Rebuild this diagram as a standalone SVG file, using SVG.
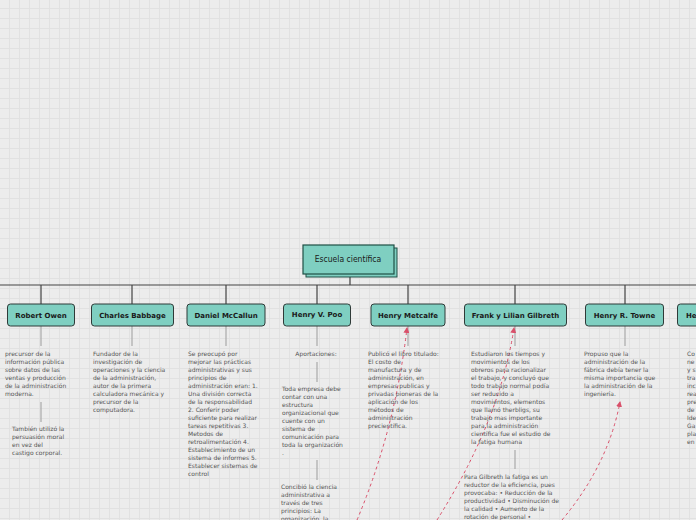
<svg xmlns="http://www.w3.org/2000/svg" width="696" height="520" viewBox="0 0 696 520">
<defs>
<pattern id="grid" x="9" y="8" width="10" height="10" patternUnits="userSpaceOnUse">
<path d="M0.5,0 V10 M0,0.5 H10" stroke="#e1e1e1" stroke-width="1" fill="none"/>
</pattern>
<marker id="arr" markerWidth="6" markerHeight="6" refX="5" refY="3" orient="auto" markerUnits="userSpaceOnUse">
<path d="M0,0 L6,3 L0,6 Z" fill="#d9506a"/>
</marker>
<style>
.node rect{fill:#7fcfc1;stroke:#2f3a38;stroke-width:1}
.lbl{font-family:"DejaVu Sans",Verdana,sans-serif;font-size:7px;font-weight:bold;fill:#1a1a1a;text-anchor:middle}
.lbl-start{text-anchor:start}
.txt{font-family:"DejaVu Sans",Verdana,sans-serif;font-size:6px;fill:#555}
.mid{text-anchor:middle}
.main{stroke:#444;stroke-width:1.2;fill:none}
.sub{stroke:#aaa;stroke-width:1.2;fill:none}
.rel{stroke:#d9506a;stroke-width:1;stroke-dasharray:3,3;fill:none}
</style>
</defs>
<rect width="696" height="520" fill="#ececec"/>
<rect width="696" height="520" fill="url(#grid)"/>

<g id="connectors">
<path class="main" d="M350,277 V285" stroke-width="2"/>
<path class="main" d="M0,285 H696"/>
<path class="main" d="M41,285 V304 M132,285 V304 M226,285 V304 M317,285 V304 M408,285 V304 M515,285 V304 M625,285 V304"/>
<path class="sub" d="M41,326 V346 M41,402 V422 M132,326 V346 M226,326 V346 M317,326 V346 M317,362 V382 M317,460 V480 M408,326 V346 M515,326 V346 M515,450 V469 M625,326 V346"/>
<path class="rel" d="M357,520 Q395,430 407,328" marker-end="url(#arr)"/>
<path class="rel" d="M437,520 Q500,420 514,328" marker-end="url(#arr)"/>
<path class="rel" d="M562,520 Q608,465 620,402" marker-end="url(#arr)"/>
</g>

<g id="root">
<rect x="306" y="248" width="91" height="29" fill="#7fcfc1" stroke="#1f4f45" stroke-width="1"/>
<rect x="303" y="245" width="91" height="29" fill="#7fcfc1" stroke="#1f4f45" stroke-width="1.2"/>
<text x="348" y="262" font-family="'DejaVu Sans Condensed','DejaVu Sans',sans-serif" font-stretch="condensed" font-size="8.5" fill="#1a1a1a" text-anchor="middle">Escuela científica</text>
</g>

<g id="robert-owen" class="node">
<rect x="7.5" y="304" width="67" height="22" rx="3"/>
<text class="lbl" x="41" y="317.5">Robert Owen</text>
<text class="txt">
<tspan x="5" y="356">precursor de la</tspan>
<tspan x="5" y="364">información pública</tspan>
<tspan x="5" y="372">sobre datos de las</tspan>
<tspan x="5" y="380">ventas y producción</tspan>
<tspan x="5" y="388">de la administración</tspan>
<tspan x="5" y="396">moderna.</tspan>
</text>
<text class="txt">
<tspan x="12" y="431">También utilizó la</tspan>
<tspan x="12" y="439">persuasión moral</tspan>
<tspan x="12" y="447">en vez del</tspan>
<tspan x="12" y="455">castigo corporal.</tspan>
</text>
</g>

<g id="charles-babbage" class="node">
<rect x="91.5" y="304" width="82" height="22" rx="3"/>
<text class="lbl" x="132.5" y="317.5">Charles Babbage</text>
<text class="txt">
<tspan x="93" y="356">Fundador de la</tspan>
<tspan x="93" y="364">investigación de</tspan>
<tspan x="93" y="372">operaciones y la ciencia</tspan>
<tspan x="93" y="380">de la administración,</tspan>
<tspan x="93" y="388">autor de la primera</tspan>
<tspan x="93" y="396">calculadora mecánica y</tspan>
<tspan x="93" y="404">precursor de la</tspan>
<tspan x="93" y="412">computadora.</tspan>
</text>
</g>

<g id="daniel-mccallun" class="node">
<rect x="187" y="304" width="78" height="22" rx="3"/>
<text class="lbl" x="226" y="317.5">Daniel McCallun</text>
<text class="txt">
<tspan x="188" y="356">Se preocupó por</tspan>
<tspan x="188" y="364">mejorar las prácticas</tspan>
<tspan x="188" y="372">administrativas y sus</tspan>
<tspan x="188" y="380">principios de</tspan>
<tspan x="188" y="388">administración eran: 1.</tspan>
<tspan x="188" y="396">Una división correcta</tspan>
<tspan x="188" y="404">de la responsabilidad</tspan>
<tspan x="188" y="412">2. Conferir poder</tspan>
<tspan x="188" y="420">suficiente para realizar</tspan>
<tspan x="188" y="428">tareas repetitivas 3.</tspan>
<tspan x="188" y="436">Metodos de</tspan>
<tspan x="188" y="444">retroalimentación 4.</tspan>
<tspan x="188" y="452">Establecimiento de un</tspan>
<tspan x="188" y="460">sistema de informes 5.</tspan>
<tspan x="188" y="468">Establecer sistemas de</tspan>
<tspan x="188" y="476">control</tspan>
</text>
</g>

<g id="henry-v-poo" class="node">
<rect x="283.5" y="304" width="67" height="22" rx="3"/>
<text class="lbl" x="317" y="317">Henry V. Poo</text>
<text class="txt mid" x="316" y="356">Aportaciones:</text>
<text class="txt">
<tspan x="282" y="391">Toda empresa debe</tspan>
<tspan x="282" y="399">contar con una</tspan>
<tspan x="282" y="407">estructura</tspan>
<tspan x="282" y="415">organizacional que</tspan>
<tspan x="282" y="423">cuente con un</tspan>
<tspan x="282" y="431">sistema de</tspan>
<tspan x="282" y="439">comunicación para</tspan>
<tspan x="282" y="447">toda la organización</tspan>
<tspan x="282" y="455">.</tspan>
</text>
<text class="txt">
<tspan x="281" y="489">Concibió la ciencia</tspan>
<tspan x="281" y="497">administrativa a</tspan>
<tspan x="281" y="505">través de tres</tspan>
<tspan x="281" y="513">principios: La</tspan>
<tspan x="281" y="521">organización, la</tspan>
</text>
</g>

<g id="henry-metcalfe" class="node">
<rect x="371" y="304" width="74" height="22" rx="3"/>
<text class="lbl" x="408" y="318">Henry Metcalfe</text>
<text class="txt">
<tspan x="368" y="356">Publicó el libro titulado:</tspan>
<tspan x="368" y="364">El costo de</tspan>
<tspan x="368" y="372">manufactura y de</tspan>
<tspan x="368" y="380">administración, en</tspan>
<tspan x="368" y="388">empresas publicas y</tspan>
<tspan x="368" y="396">privadas pioneras de la</tspan>
<tspan x="368" y="404">aplicación de los</tspan>
<tspan x="368" y="412">métodos de</tspan>
<tspan x="368" y="420">administración</tspan>
<tspan x="368" y="428">precientífica.</tspan>
</text>
</g>

<g id="frank-lilian-gilbreth" class="node">
<rect x="464.5" y="304" width="102" height="22" rx="3"/>
<text class="lbl" x="515.5" y="318">Frank y Lilian Gilbreth</text>
<text class="txt">
<tspan x="471" y="356">Estudiaron los tiempos y</tspan>
<tspan x="471" y="364">movimientos de los</tspan>
<tspan x="471" y="372">obreros para racionalizar</tspan>
<tspan x="471" y="380">el trabajo, y concluyó que</tspan>
<tspan x="471" y="388">todo trabajo normal podía</tspan>
<tspan x="471" y="396">ser reducido a</tspan>
<tspan x="471" y="404">movimientos, elementos</tspan>
<tspan x="471" y="412">que llamó therbligs, su</tspan>
<tspan x="471" y="420">trabajo mas importante</tspan>
<tspan x="471" y="428">para la administración</tspan>
<tspan x="471" y="436">científica fue el estudio de</tspan>
<tspan x="471" y="444">la fatiga humana</tspan>
</text>
<text class="txt">
<tspan x="464" y="479">Para Gilbreth la fatiga es un</tspan>
<tspan x="464" y="487">reductor de la eficiencia, pues</tspan>
<tspan x="464" y="495">provocaba: • Reducción de la</tspan>
<tspan x="464" y="503">productividad • Disminución de</tspan>
<tspan x="464" y="511">la calidad • Aumento de la</tspan>
<tspan x="464" y="519">rotación de personal •</tspan>
</text>
</g>

<g id="henry-r-towne" class="node">
<rect x="585.5" y="304" width="78" height="22" rx="3"/>
<text class="lbl" x="624.5" y="318">Henry R. Towne</text>
<text class="txt">
<tspan x="584" y="356">Propuso que la</tspan>
<tspan x="584" y="364">administración de la</tspan>
<tspan x="584" y="372">fábrica debía tener la</tspan>
<tspan x="584" y="380">misma importancia que</tspan>
<tspan x="584" y="388">la administración de la</tspan>
<tspan x="584" y="396">ingeniería.</tspan>
</text>
</g>

<g id="henry-gantt" class="node">
<rect x="677.5" y="304" width="76" height="22" rx="3"/>
<text class="lbl lbl-start" x="686" y="318">He</text>
<text class="txt">
<tspan x="687" y="356">Co</tspan>
<tspan x="687" y="364">ne</tspan>
<tspan x="687" y="372">y s</tspan>
<tspan x="687" y="380">tra</tspan>
<tspan x="687" y="388">inc</tspan>
<tspan x="687" y="396">rea</tspan>
<tspan x="687" y="404">pre</tspan>
<tspan x="687" y="412">de</tspan>
<tspan x="687" y="420">Ide</tspan>
<tspan x="687" y="428">Ga</tspan>
<tspan x="687" y="436">pla</tspan>
<tspan x="687" y="444">en</tspan>
</text>
</g>
</svg>
